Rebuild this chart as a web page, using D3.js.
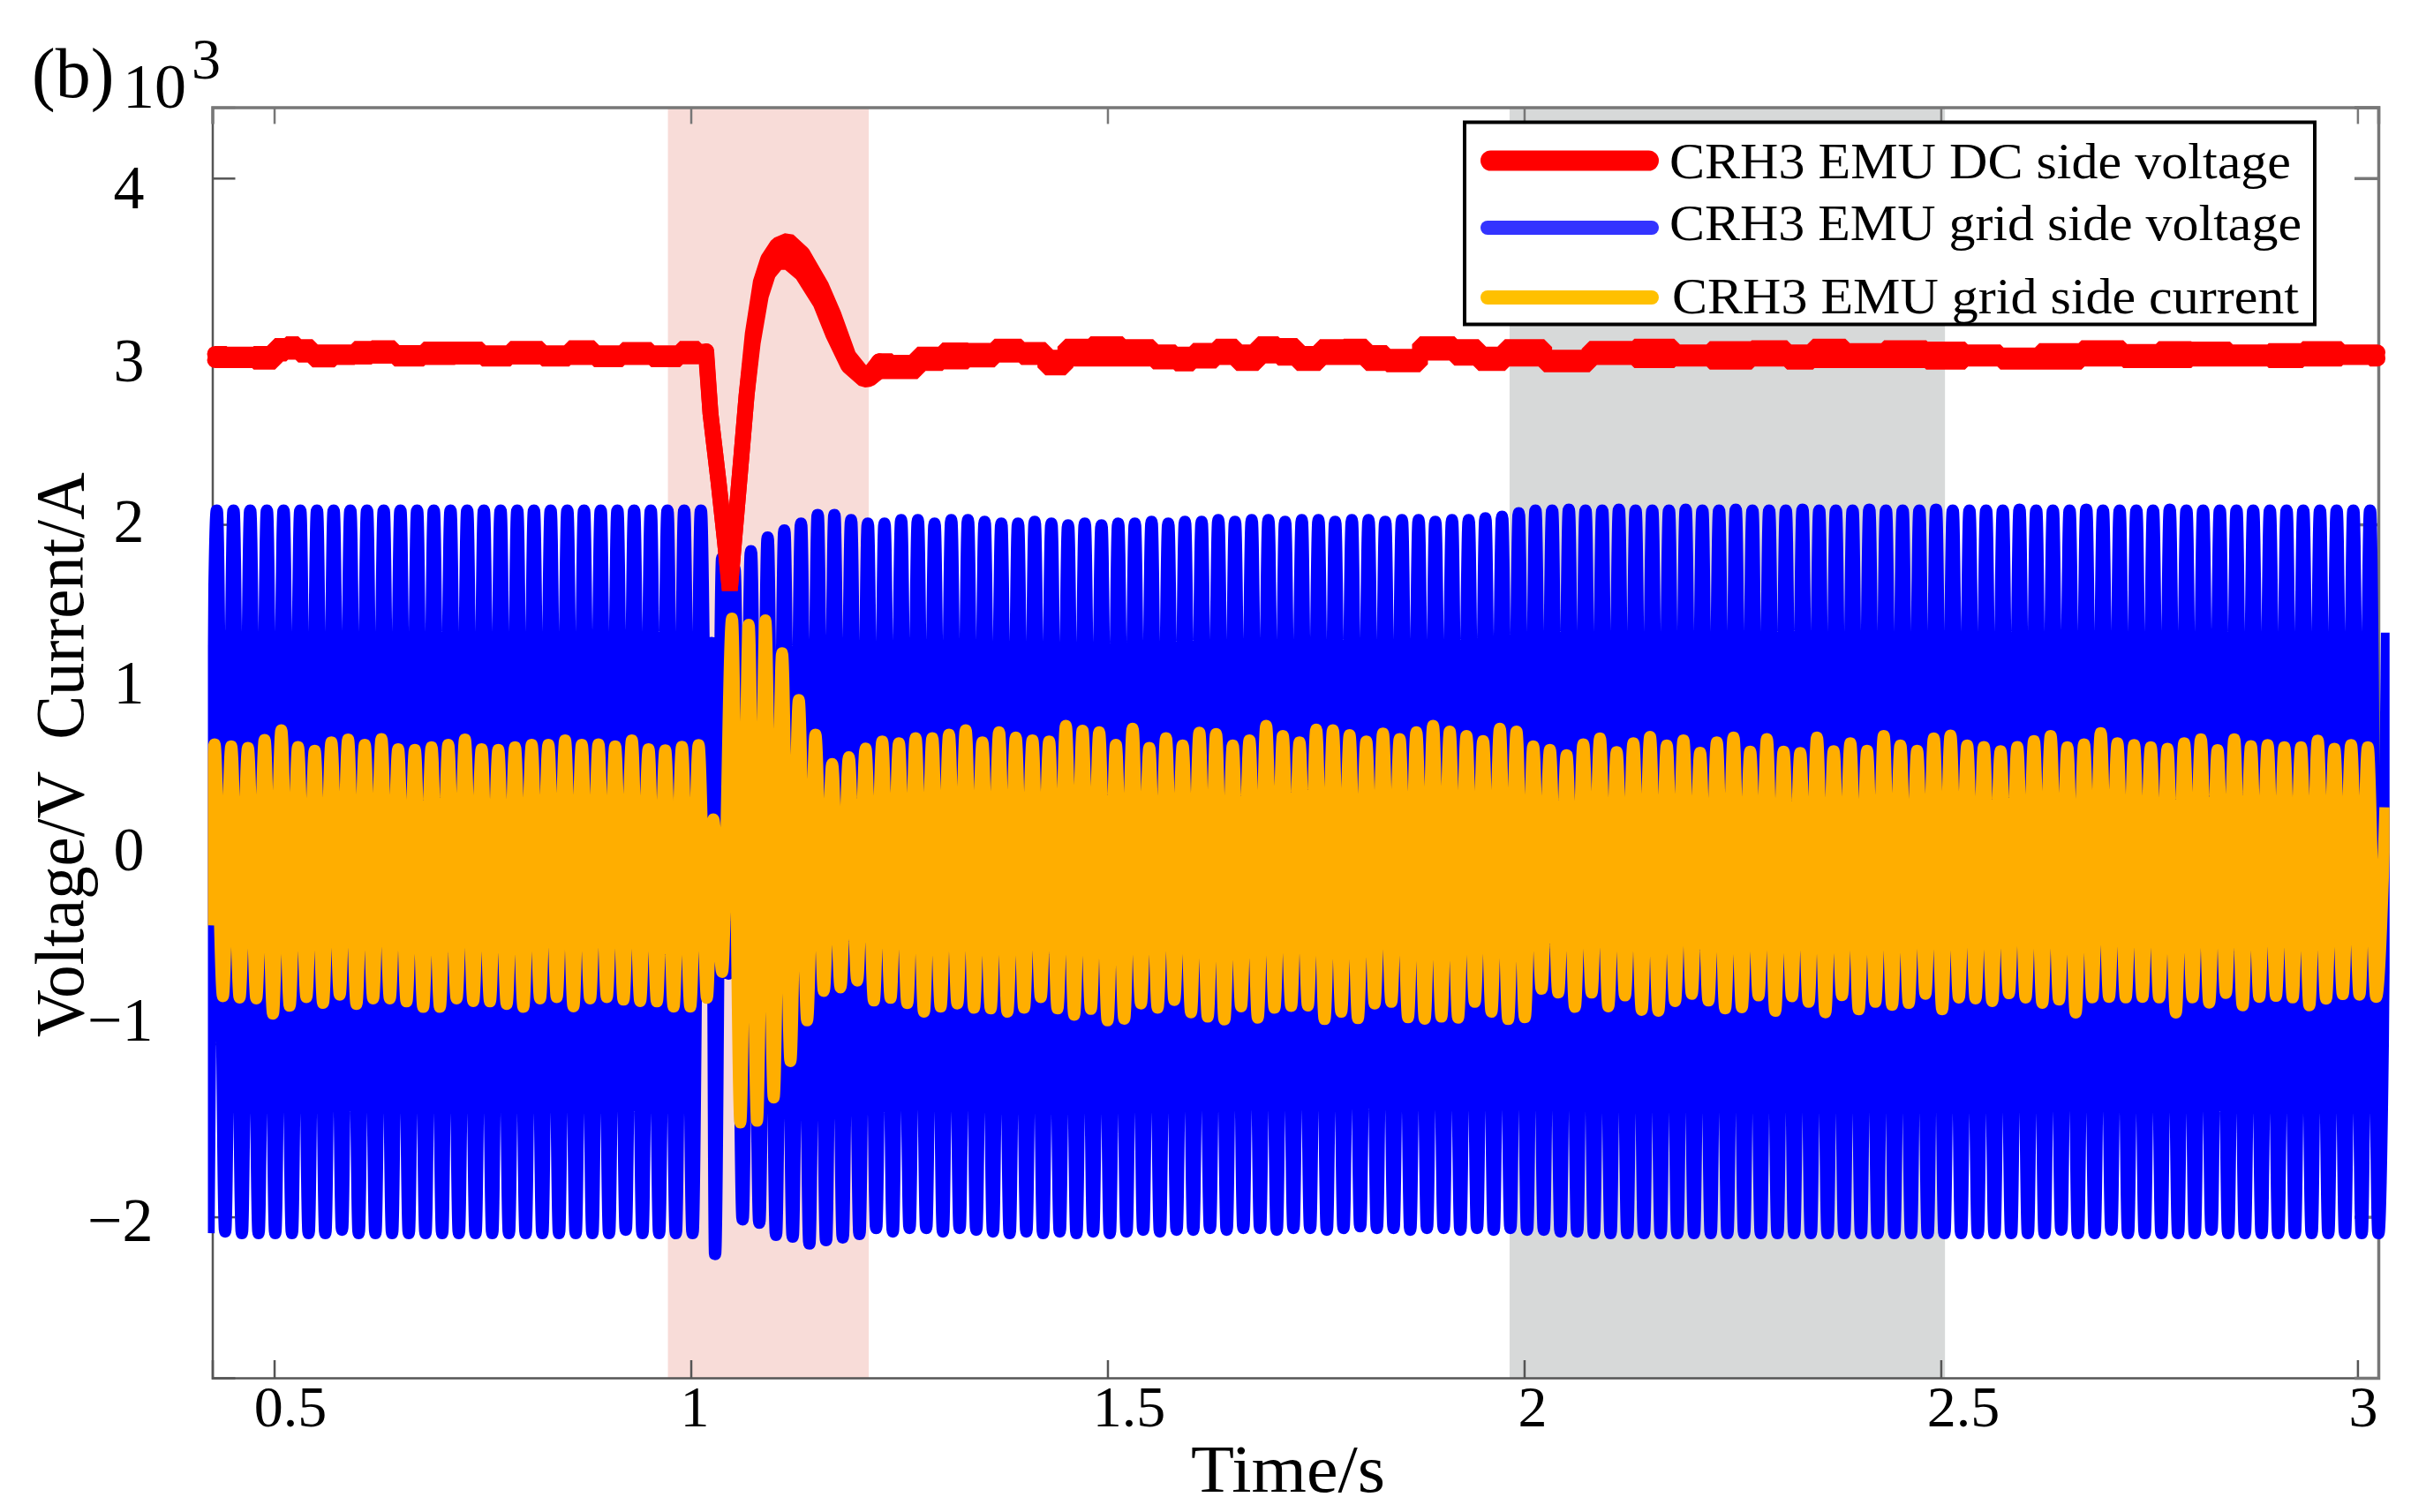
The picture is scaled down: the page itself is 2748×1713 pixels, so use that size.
<!DOCTYPE html>
<html lang="en">
<head>
<meta charset="utf-8">
<title>CRH3 EMU voltage and current</title>
<script src="https://d3js.org/d3.v7.min.js"></script>
<style>
	body { margin: 0; background: #fff; }
	svg { display: block; }
	text { font-family: "Liberation Serif", "Times New Roman", serif; fill: #000; }
	.series { fill: none; }
</style>
</head>
<body>
<svg id="chart" width="2748" height="1713"></svg>
<script>
// axis ticks
var xTicks = [0.5, 1, 1.5, 2, 2.5, 3];
var xTickLabels = ["0.5", "1", "1.5", "2", "2.5", "3"];
var yTicks = [4, 3, 2, 1, 0, -1, -2];
var yTickLabels = ["4", "3", "2", "1", "0", "\u22121", "\u22122"];

// shaded time windows (s)
var faultWindow = [0.9725, 1.2135];
var steadyWindow = [1.9825, 2.505];

var legendLabels = ["CRH3 EMU DC side voltage", "CRH3 EMU grid side voltage", "CRH3 EMU grid side current"];

// time of the first positive peak and length of a mains cycle (s)
var firstPeak = 0.4312;
var cycle = 0.02003;

// grid voltage, x10^3, edge of each positive / negative half wave
var blueTop = [
	2.115,2.115,2.115,2.115,2.115,2.115,2.115,2.115,2.115,2.115,2.115,2.115,2.115,2.115,2.115,
	2.115,2.115,2.115,2.115,2.115,2.115,2.115,2.115,2.115,2.115,2.115,2.115,2.115,2.115,2.115,
	null,null,
	1.88,1.96,2.0,2.04,2.09,2.09,2.06,2.04,2.04,2.06,2.06,2.04,2.06,2.06,
	2.05,2.04,2.04,2.05,2.04,2.03,2.04,2.03,2.04,2.04,2.05,2.04,2.05,2.05,2.06,
	2.05,2.06,2.06,2.05,2.06,2.06,2.05,2.06,2.06,2.05,2.06,2.06,2.05,2.06,2.06,2.07,2.08,2.10,
	2.115,2.115,2.12,2.115,2.115,2.12,2.115,2.115,2.115,2.12,2.115,2.115,2.12,2.115,2.115,2.115,2.12,
	2.115,2.115,2.115,2.12,2.115,2.115,2.115,2.12,2.115,2.115,2.115,2.115,2.12,2.115,2.115,2.115,
	2.12,2.115,2.115,2.115,2.115,2.12,2.115,2.115,2.115,2.115,2.115,2.115,2.115,2.115,2.115,2.115,2.115,2.115
];
var blueBottom = [
	-2.12,-2.13,-2.13,-2.13,-2.13,-2.13,-2.13,-2.11,-2.13,-2.13,-2.13,-2.13,-2.13,-2.13,-2.13,
	-2.13,-2.13,-2.13,-2.13,-2.13,-2.13,-2.13,-2.13,-2.13,-2.11,-2.13,-2.13,-2.13,-2.13,
	null,null,
	-2.05,-2.07,-2.14,-2.15,-2.19,-2.17,-2.155,-2.135,-2.10,-2.12,-2.10,-2.10,-2.12,-2.10,
	-2.11,-2.12,-2.13,-2.12,-2.13,-2.12,-2.13,-2.12,-2.13,-2.12,-2.11,-2.12,-2.11,-2.11,-2.10,
	-2.11,-2.10,-2.10,-2.11,-2.10,-2.10,-2.11,-2.10,-2.09,-2.10,-2.10,-2.11,-2.10,-2.10,-2.11,
	-2.10,-2.11,-2.10,-2.11,-2.11,-2.12,-2.12,-2.13,-2.13,-2.13,-2.13,-2.13,-2.13,-2.13,-2.13,
	-2.13,-2.13,-2.13,-2.13,-2.13,-2.13,-2.13,-2.13,-2.13,-2.13,-2.13,-2.13,-2.13,-2.13,-2.13,-2.13,-2.13,-2.13,-2.13,-2.13,
	-2.11,-2.13,-2.13,-2.11,-2.13,-2.13,-2.13,-2.13,-2.13,-2.11,
	-2.13,-2.13,-2.13,-2.13,-2.13,-2.13,-2.13,-2.13,-2.13,-2.13
];
// the disturbed cycles do not keep the mains rhythm, and the two trace ends
var blueExtraTime = [0.4212, 1.0207, 1.0249, 1.0291, 1.0376, 1.045, 1.0524, 3.0355];
var blueExtraValue = [-2.13, -0.47, 1.35, -2.25, 1.84, -0.63, 1.78, 1.41];

// grid current, x10^3
var orangeTop = [
	.764,.753,.744,.79,.846,.749,.727,.775,.792,.761,.795,.736,.732,.747,.761,.792,.736,.732,.747,.761,.761,.787,.761,.764,.753,.787,.736,
	.73,.75,.76,
	null,
	1.49,1.455,1.48,1.29,1.02,.82,.65,.69,.74,.78,.77,.80,.80,.82,
	.846,.775,.834,.804,.787,.781,.871,.843,.834,.761,.855,.744,.8,.758,.832,.824,.758,.787,.871,.812,.775,.849,.846,.817,.781,.826,.795,
	.834,.871,.838,.812,.783,.855,.838,.753,.732,.702,.764,.798,.719,.77,.807,.758,.787,.715,.775,.804,.722,.795,.722,.714,.804,.724,.77,
	.727,.812,.758,.727,.798,.815,.758,.749,.724,.749,.783,.812,.747,
	.764,.829,.77,.76,.747,.738,.77,.793,.731,.793,.754,.76,.747,.747,.786,.738,.76,.747
];
var orangeBottom = [
	-.76,-.768,-.773,-.861,-.815,-.765,-.799,-.751,-.805,-.773,-.773,-.79,-.822,-.822,-.773,-.788,-.79,-.805,-.822,-.773,-.765,-.819,-.773,-.765,-.78,-.788,-.79,
	-.82,-.82,-.77,
	null,
	-1.49,-1.48,-1.345,-1.135,-.9,-.73,-.71,-.67,-.785,-.77,-.80,-.85,-.82,
	-.802,-.827,-.831,-.85,-.827,-.765,-.831,-.867,-.833,-.9,-.89,-.802,-.827,-.782,-.853,-.878,-.895,-.819,-.884,-.827,-.816,-.814,-.892,-.85,-.887,-.802,-.793,-.882,
	-.89,-.878,-.884,-.793,-.85,-.892,-.882,-.717,-.739,-.822,-.739,-.819,-.756,-.839,-.845,-.788,-.746,-.785,-.831,-.824,-.756,-.845,-.76,-.793,-.853,-.754,
	-.836,-.793,-.81,-.799,-.746,-.836,-.768,-.773,-.788,-.743,-.768,-.799,-.78,
	-.855,-.767,-.764,-.767,-.764,-.767,-.855,-.767,-.797,-.741,-.813,-.764,-.758,-.767,-.813,-.774,-.748,-.751,-.764
];
var orangeExtraTime = [0.4213, 1.027, 1.0376, 3.0334];
var orangeExtraValue = [-0.35, 0.33, -0.62, 0.4];

// DC side voltage, x10^3: time, and the upper and lower run of the rippled trace
var redTime = [
	.429,.457,.494,.508,.521,.537,.555,.590,.603,.631,.658,.701,.733,.766,.801,.842,.866,.902,.934,.971,1.003,1.016,
	1.0185,1.0236,1.0334,1.0408,1.0468,1.052,1.0594,1.0668,1.0743,1.084,1.0927,1.104,1.1166,1.1338,1.156,1.171,1.189,1.208,1.2145,1.226,
	1.257,1.287,1.317,1.348,1.381,1.412,1.439,1.460,1.4995,1.537,1.5725,1.5906,1.615,1.6456,1.664,1.6976,1.712,1.743,1.767,1.800,1.821,1.849,
	1.901,1.9316,1.959,1.995,2.053,2.104,
	2.1606,2.1995,2.246,2.300,2.331,2.362,2.409,2.455,2.510,2.548,2.595,2.6415,2.696,2.742,2.781,2.820,2.874,2.913,2.9555,3.006,3.024
];
var redUpper = [
	2.985,2.98,2.985,3.03,3.04,3.024,2.993,2.993,3.014,3.017,2.99,3.01,3.01,2.988,3.014,2.988,3.017,2.988,3.007,2.988,3.014,2.997,
	3.0,2.64,2.24,1.91,1.62,1.91,2.32,2.74,3.10,3.40,3.53,3.614,3.64,3.564,3.38,3.214,2.974,2.86,2.87,2.942,
	2.934,2.98,3.005,3.002,3.027,3.007,2.963,3.027,3.041,3.024,2.993,2.98,3.002,3.027,2.993,3.041,3.03,2.985,3.024,3.027,2.99,2.968,
	3.041,3.024,2.981,3.024,2.963,3.014,
	3.027,2.993,3.013,3.018,2.993,3.027,3.001,3.018,3.01,2.993,2.976,3.001,3.018,2.996,3.013,3.01,2.993,3.001,3.013,2.993,2.993
];
var redLower = [
	2.949,2.949,2.94,2.987,2.997,2.98,2.953,2.966,2.969,2.974,2.958,2.966,2.969,2.958,2.969,2.958,2.966,2.954,2.966,2.954,2.971,2.974,
	2.97,2.64,2.24,1.91,1.62,1.91,2.32,2.74,3.05,3.32,3.45,3.516,3.516,3.446,3.276,3.096,2.916,2.836,2.84,2.885,
	2.885,2.932,2.941,2.953,2.98,2.966,2.907,2.958,2.958,2.958,2.941,2.929,2.946,2.966,2.932,2.975,2.963,2.932,2.966,2.966,2.932,2.924,
	2.992,2.963,2.932,2.958,2.924,2.966,
	2.949,2.958,2.94,2.958,2.94,2.949,2.949,2.949,2.94,2.958,2.94,2.94,2.958,2.949,2.949,2.958,2.958,2.949,2.958,2.966,2.958
];

var svg = d3.select("#chart");
var left = 240.5, right = 2694, top_ = 121.4, bottom = 1561;

var x = d3.scaleLinear().domain([0.4258, 3.025]).range([left, right]);
var y = d3.scaleLinear().domain([-2.93, 4.41]).range([bottom, top_]);

// shaded windows
function band(win, color) {
	svg.append("rect")
		.attr("x", x(win[0]))
		.attr("y", top_)
		.attr("width", x(win[1]) - x(win[0]))
		.attr("height", bottom - top_)
		.attr("fill", color);
}
band(faultWindow, "#f8dcd8");
band(steadyWindow, "#d7d9d9");

// axes sit under the traces, labels are nudged the way the figure has them
var xLabelShift = [18, 4, 24, 9, 25, 6];
var yLabelBase = [235, 431, 613, 796, 985, 1178, 1405];

var axisBottom = svg.append("g")
	.attr("transform", "translate(0," + bottom + ")")
	.call(d3.axisBottom(x).tickValues(xTicks).tickSize(-20)
		.tickFormat(function (d, i) { return xTickLabels[i]; }));
axisBottom.selectAll("text")
	.attr("y", 55)
	.attr("x", function (d, i) { return xLabelShift[i]; })
	.attr("dy", 0)
	.style("font-size", "66px")
	.style("font-family", '"Liberation Serif", serif');

var axisLeft = svg.append("g")
	.attr("transform", "translate(" + left + ",0)")
	.call(d3.axisLeft(y).tickValues(yTicks).tickSize(-26)
		.tickFormat(function (d, i) { return yTickLabels[i]; }));
axisLeft.selectAll("text")
	.attr("text-anchor", "start")
	.attr("x", function (d) { return (d < 0 ? 99 : 128.5) - left; })
	.attr("y", function (d, i) { return yLabelBase[i] - y(d); })
	.attr("dy", 0)
	.style("font-size", "70px")
	.style("font-family", '"Liberation Serif", serif');

var axisTop = svg.append("g")
	.attr("transform", "translate(0," + top_ + ")")
	.call(d3.axisTop(x).tickValues(xTicks).tickSize(-19).tickFormat(""));
var axisRight = svg.append("g")
	.attr("transform", "translate(" + right + ",0)")
	.call(d3.axisRight(y).tickValues(yTicks).tickSize(-27).tickFormat(""));

axisBottom.selectAll("path, line").attr("stroke", "#555").attr("stroke-width", 2.5);
axisLeft.selectAll("path, line").attr("stroke", "#555").attr("stroke-width", 2.5);
axisTop.selectAll("path, line").attr("stroke", "#777").attr("stroke-width", 3.5);
axisRight.selectAll("path, line").attr("stroke", "#777").attr("stroke-width", 3.5);
axisTop.selectAll(".tick line").attr("stroke-width", 2.5);

// trace clip, the traces run a little past the frame
var clipLeft = x(0.4205), clipRight = x(3.0385);
svg.append("clipPath").attr("id", "traceClip").append("rect")
	.attr("x", clipLeft).attr("y", 0)
	.attr("width", clipRight - clipLeft).attr("height", 1713);

// one point per half wave, plus the irregular ones, in time order
function waveform(tops, bottoms, extraTime, extraValue, shift) {
	var pts = [];
	tops.forEach(function (v, i) {
		if (v !== null) pts.push({t: firstPeak + shift + i * cycle, v: v});
	});
	bottoms.forEach(function (v, i) {
		if (v !== null) pts.push({t: firstPeak + shift + (i + 0.5) * cycle, v: v});
	});
	extraTime.forEach(function (t, i) {
		pts.push({t: t, v: extraValue[i]});
	});
	return pts.sort(function (a, b) { return a.t - b.t; });
}

// values were read at the outer edge of the thick trace, so pull the centre line in
function waveLine(width) {
	return d3.line()
		.curve(d3.curveMonotoneX)
		.x(function (d) { return x(d.t); })
		.y(function (d) { return y(d.v) + (d.v > 0 ? width / 2 : -width / 2); });
}

var blueWidth = 14, orangeWidth = 13.5, redWidth = 18;

svg.append("path")
	.attr("class", "series")
	.attr("clip-path", "url(#traceClip)")
	.attr("d", waveLine(blueWidth)(waveform(blueTop, blueBottom, blueExtraTime, blueExtraValue, 0)))
	.attr("stroke", "#0000ff")
	.attr("stroke-width", blueWidth);

svg.append("path")
	.attr("class", "series")
	.attr("clip-path", "url(#traceClip)")
	.attr("d", waveLine(orangeWidth)(waveform(orangeTop, orangeBottom, orangeExtraTime, orangeExtraValue, -0.0027)))
	.attr("stroke", "#ffae00")
	.attr("stroke-width", orangeWidth);

// the band between both runs is solid
var redBand = d3.area()
	.x(function (t) { return x(t); })
	.y0(function (t, i) { return y(redLower[i]); })
	.y1(function (t, i) { return y(redUpper[i]); });

svg.append("path")
	.attr("d", redBand(redTime))
	.attr("fill", "#ff0000");

// the recorded DC trace is blocky on the flat parts, the dip runs straight
var faultStart = 22, faultEnd = 41;

function redPiece(run, from, to, curve) {
	var line = d3.line()
		.curve(curve)
		.x(function (i) { return x(redTime[i]); })
		.y(function (i) { return y(run[i]); });
	svg.append("path")
		.attr("class", "series")
		.attr("d", line(d3.range(from, to + 1)))
		.attr("stroke", "#ff0000")
		.attr("stroke-width", redWidth)
		.attr("stroke-linejoin", "bevel")
		.attr("stroke-linecap", "round");
}

[redUpper, redLower].forEach(function (run) {
	redPiece(run, 0, faultStart, d3.curveStep);
	redPiece(run, faultStart, faultEnd, d3.curveLinear);
	redPiece(run, faultEnd, redTime.length - 1, d3.curveStep);
});

// legend
svg.append("rect")
	.attr("x", 1659).attr("y", 138.5)
	.attr("width", 963).attr("height", 229)
	.attr("fill", "#fff").attr("stroke", "#000").attr("stroke-width", 4);

var legendColors = ["#ff0000", "#3333ff", "#ffc000"];
var legendWidths = [23, 16, 16];
var legendLineY = [182, 258, 337];
var legendTextX = [1891, 1891, 1894];
var legendTextY = [202, 272, 355];
var legendTextLen = [704, 716, 710];

legendLabels.forEach(function (label, i) {
	svg.append("line")
		.attr("x1", 1677 + legendWidths[i] / 2).attr("x2", 1879 - legendWidths[i] / 2)
		.attr("y1", legendLineY[i]).attr("y2", legendLineY[i])
		.attr("stroke", legendColors[i])
		.attr("stroke-width", legendWidths[i])
		.attr("stroke-linecap", "round");
	svg.append("text")
		.attr("x", legendTextX[i]).attr("y", legendTextY[i])
		.attr("textLength", legendTextLen[i])
		.attr("lengthAdjust", "spacingAndGlyphs")
		.style("font-size", "56px")
		.text(label);
});

// titles
svg.append("text")
	.attr("x", 1349).attr("y", 1690)
	.attr("textLength", 220).attr("lengthAdjust", "spacingAndGlyphs")
	.style("font-size", "76px")
	.text("Time/s");

svg.append("text")
	.attr("transform", "translate(94,1175) rotate(-90)")
	.attr("textLength", 640).attr("lengthAdjust", "spacingAndGlyphs")
	.style("font-size", "78px")
	.style("white-space", "pre")
	.text("Voltage/V  Current/A");

svg.append("text").attr("x", 36).attr("y", 110).style("font-size", "80px").text("(b)");
svg.append("text").attr("x", 139).attr("y", 122).style("font-size", "72px").text("10");
svg.append("text").attr("x", 217).attr("y", 89).style("font-size", "66px").text("3");
</script>
</body>
</html>
